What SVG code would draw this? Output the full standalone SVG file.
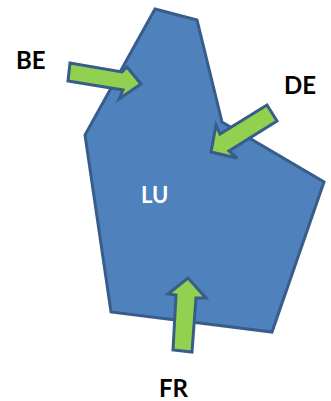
<svg xmlns="http://www.w3.org/2000/svg" width="331" height="401" viewBox="0 0 331 401">
<style>
.region{fill:#4f81bd;stroke:#385d8a;stroke-width:3;stroke-linejoin:miter}
.arrow{fill:#92d050;stroke:#385d8a;stroke-width:3;stroke-linejoin:miter}
text{font-family:Lato,"Liberation Sans",sans-serif;font-weight:700;font-size:24px;fill:#000}
.light{fill:#fff;font-size:22px}
</style>
<rect width="331" height="401" fill="#fff"/>
<g id="LU">
<polygon class="region" points="155,9 197,20 222,122 324,182 272,332 111,312 85,135"/>
<text class="light" x="141" y="203">LU</text>
</g>
<g id="BE"><text x="16" y="69">BE</text></g>
<g id="DE"><text x="284" y="94">DE</text></g>
<g id="FR"><text x="159" y="397">FR</text></g>
<g id="connectors">
<polygon class="arrow" points="70,63 68,81 123,90 119,99 141,84 127,67 122,72"/>
<polygon class="arrow" points="267,105 277,121 229,151 237,158 211,152 216,125 220,134"/>
<polygon class="arrow" points="188,278 206,298 196,298 192,352 173,350 176,295 168,294"/>
</g>
</svg>
